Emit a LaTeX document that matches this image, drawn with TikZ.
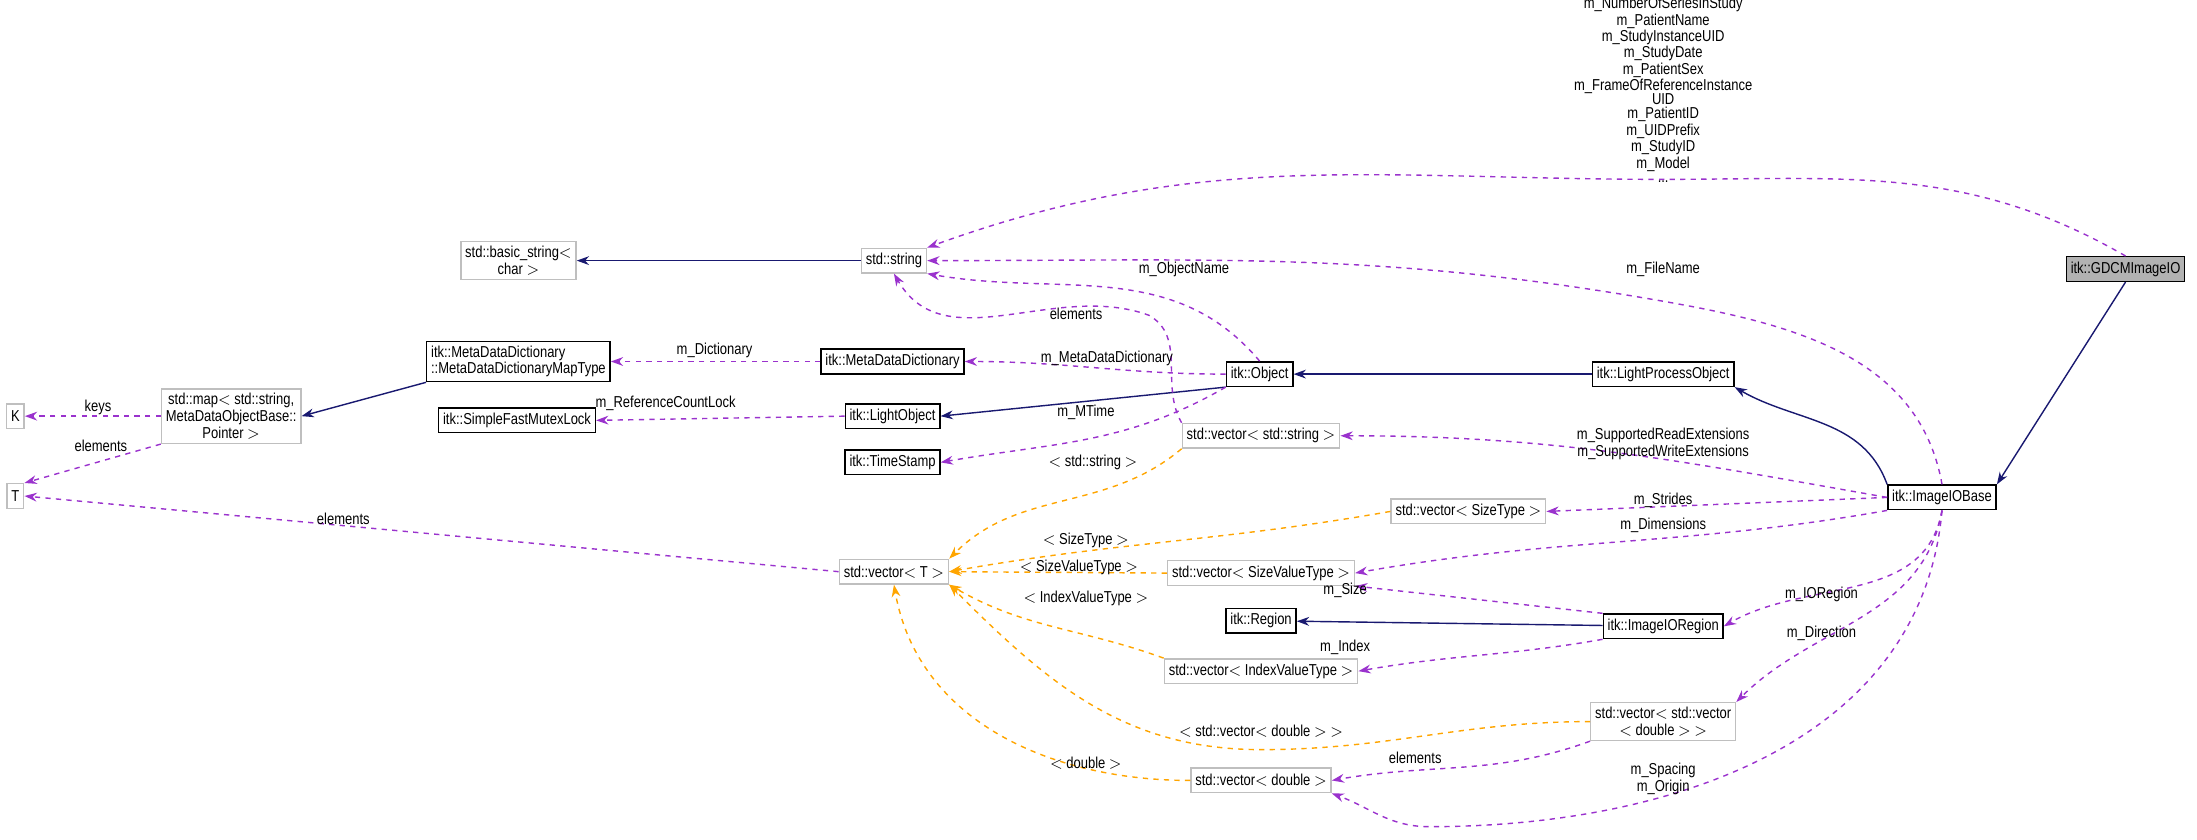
\documentclass[tikz,border=0pt]{standalone}
\usepackage{fontspec}
\setmainfont[FakeStretch=0.82]{Liberation Sans}
\usetikzlibrary{arrows.meta}
\definecolor{inhcolor}{HTML}{191970}
\definecolor{usecolor}{HTML}{9A32CD}
\definecolor{tplcolor}{HTML}{FFA500}
\definecolor{extborder}{HTML}{BFBFBF}
\tikzstyle{cls} = [rectangle, draw=black, thick, inner sep=2.5pt, minimum height=14pt]
\tikzstyle{ext} = [rectangle, draw=extborder, thick, inner sep=2.5pt, minimum height=14pt, align=center]
\tikzstyle{cur} = [cls, fill=black!30]
\tikzstyle{lbl} = [inner sep=0pt, align=center]
\tikzstyle{inh} = [thick, draw=inhcolor, -{Stealth[length=7pt,width=5pt]}]
\tikzstyle{use} = [thick, dashed, draw=usecolor, -{Stealth[length=7pt,width=5pt,fill=usecolor]}]
\tikzstyle{tpl} = [thick, dashed, draw=tplcolor, -{Stealth[length=7pt,width=5pt,fill=tplcolor]}]

\begin{document}
\begin{tikzpicture}[x=0.028cm, y=-0.028cm, font=\fontsize{9}{9.5}\selectfont]
        \useasboundingbox (0,0) rectangle (1568,599);

        % classes
        \node (gdcm) [cur] at (1517,192) {itk::GDCMImageIO};
        \node (iobase) [cls] at (1386,355) {itk::ImageIOBase};
        \node (lpo) [cls] at (1187,267) {itk::LightProcessObject};
        \node (obj) [cls] at (899,267) {itk::Object};
        \node (mdd) [cls] at (637,258) {itk::MetaDataDictionary};
        \node (mapt) [cls, align=left] at (370,258)
            {itk::MetaDataDictionary\\::MetaDataDictionaryMapType};
        \node (lo) [cls] at (637,297) {itk::LightObject};
        \node (mutex) [cls] at (369,300) {itk::SimpleFastMutexLock};
        \node (ts) [cls] at (637,330) {itk::TimeStamp};
        \node (region) [cls] at (900,443) {itk::Region};
        \node (ioregion) [cls] at (1187,447) {itk::ImageIORegion};

        % external types
        \node (basic) [ext] at (370,186) {std::basic\_string$<$\\char $>$};
        \node (str) [ext] at (638,186) {std::string};
        \node (map) [ext] at (165,297)
            {std::map$<$ std::string,\\MetaDataObjectBase::\\Pointer $>$};
        \node (K) [ext] at (11,297) {K};
        \node (T) [ext] at (11,354) {T};
        \node (vecT) [ext] at (638,408) {std::vector$<$ T $>$};
        \node (vecstr) [ext] at (900,311) {std::vector$<$ std::string $>$};
        \node (vecsize) [ext] at (1048,365) {std::vector$<$ SizeType $>$};
        \node (vecsv) [ext] at (900,409) {std::vector$<$ SizeValueType $>$};
        \node (vecidx) [ext] at (900,479) {std::vector$<$ IndexValueType $>$};
        \node (vecvec) [ext] at (1187,515) {std::vector$<$ std::vector\\$<$ double $>$ $>$};
        \node (vecd) [ext] at (900,557) {std::vector$<$ double $>$};

        % inheritance
        \draw [inh] (str) -- (basic);
        \draw [inh] (mapt.south west) -- (map.east);
        \draw [inh] (obj.south west) -- (lo.east);
        \draw [inh] (lpo) -- (obj);
        \draw [inh] (iobase.north west) to [out=110,in=-30] (lpo.south east);
        \draw [inh] (gdcm.south) -- (iobase.north east);
        \draw [inh] (ioregion) -- (region);

        % members
        \draw [use] (gdcm.north) to [out=150,in=0] (1187,128)
            to [out=180,in=20] (str.north east);
        \draw [use] (iobase.north) to [out=100,in=-10] (1187,215)
            to [out=170,in=0] (str.east);
        \draw [use] (obj.north) to [out=130,in=-10] (str.south east);
        \draw [use] (vecstr.north west) to [out=120,in=-30] (820,225)
            to [out=160,in=-60] (str.south);
        \draw [use] (obj.west) to [out=180,in=0] (mdd.east);
        \draw [use] (mdd.west) -- (mapt.east);
        \draw [use] (lo.west) -- (mutex.east);
        \draw [use] (obj.south west) to [out=210,in=10] (ts.east);
        \draw [use] (map.west) -- (K.east);
        \draw [use] (map.south west) -- (T.north east);
        \draw [use] (vecT.west) -- (T.east);
        \draw [use] (iobase.west) to [out=170,in=0] (vecstr.east);
        \draw [use] (iobase.west) -- (vecsize.east);
        \draw [use] (iobase.south west) to [out=190,in=10] (vecsv.east);
        \draw [use] (ioregion.north west) -- (vecsv.south east);
        \draw [use] (ioregion.south west) to [out=190,in=10] (vecidx.east);
        \draw [use] (iobase.south) to [out=-100,in=30] (ioregion.east);
        \draw [use] (iobase.south) to [out=-100,in=45] (vecvec.north east);
        \draw [use] (vecvec.south west) to [out=200,in=10] (vecd.east);
        \draw [use] (iobase.south) to [out=-95,in=0] (1020,590)
            to [out=180,in=-20] (vecd.south east);

        % template arguments
        \draw [tpl] (vecstr.south west) to [out=220,in=45] (vecT.north east);
        \draw [tpl] (vecsize.west) to [out=190,in=10] (vecT.east);
        \draw [tpl] (vecsv.west) -- (vecT.east);
        \draw [tpl] (vecidx.north west) to [out=160,in=-30] (vecT.south east);
        \draw [tpl] (vecvec.west) to [out=180,in=0] (900,535)
            to [out=180,in=-45] (vecT.south east);
        \draw [tpl] (vecd.west) to [out=180,in=-80] (vecT.south);

        % labels
        \node (topl) [lbl, font=\fontsize{9}{8}\selectfont] at (1187,64)
            {m\_NumberOfSeriesInStudy\\m\_PatientName\\
            m\_StudyInstanceUID\\m\_StudyDate\\m\_PatientSex\\
            m\_FrameOfReferenceInstance\\UID\\m\_PatientID\\m\_UIDPrefix\\
            m\_StudyID\\m\_Model\\...};
        \node (lfile) [lbl] at (1187,192) {m\_FileName};
        \node (lobjn) [lbl] at (845,192) {m\_ObjectName};
        \node (lel1) [lbl] at (768,224) {elements};
        \node (lmdd) [lbl] at (790,256) {m\_MetaDataDictionary};
        \node (ldict) [lbl] at (510,250) {m\_Dictionary};
        \node (lrcl) [lbl] at (475,288) {m\_ReferenceCountLock};
        \node (lmt) [lbl] at (775,294) {m\_MTime};
        \node (lkeys) [lbl] at (70,291) {keys};
        \node (lel2) [lbl] at (72,318) {elements};
        \node (lel3) [lbl] at (245,370) {elements};
        \node (lstr) [lbl] at (780,330) {$<$ std::string $>$};
        \node (lext) [lbl] at (1187,317) {m\_SupportedReadExtensions\\m\_SupportedWriteExtensions};
        \node (lsize) [lbl] at (775,386) {$<$ SizeType $>$};
        \node (lstr2) [lbl] at (1187,357) {m\_Strides};
        \node (ldim) [lbl] at (1187,375) {m\_Dimensions};
        \node (lsv) [lbl] at (770,405) {$<$ SizeValueType $>$};
        \node (liv) [lbl] at (775,427) {$<$ IndexValueType $>$};
        \node (lsz) [lbl] at (960,421) {m\_Size};
        \node (lidx) [lbl] at (960,462) {m\_Index};
        \node (lior) [lbl] at (1300,424) {m\_IORegion};
        \node (ldir) [lbl] at (1300,452) {m\_Direction};
        \node (lvd) [lbl] at (900,522) {$<$ std::vector$<$ double $>$ $>$};
        \node (lel4) [lbl] at (1010,541) {elements};
        \node (ld) [lbl] at (775,545) {$<$ double $>$};
        \node (lso) [lbl] at (1187,556) {m\_Spacing\\m\_Origin};
\end{tikzpicture}
\end{document}
